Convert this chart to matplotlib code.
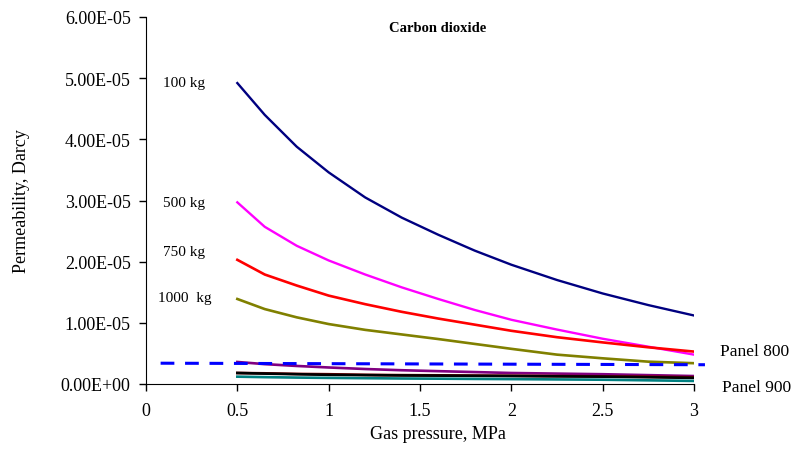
import matplotlib
matplotlib.use("Agg")
import matplotlib.pyplot as plt

plt.rcParams['font.family'] = ['Liberation Serif', 'DejaVu Serif']

pressure = [0.5, 0.65, 0.825, 1.0, 1.2, 1.4, 1.6, 1.8, 2.0, 2.25, 2.5, 2.75, 3.0]
k100 = [4.92e-5, 4.40e-5, 3.88e-5, 3.46e-5, 3.05e-5, 2.72e-5, 2.44e-5, 2.18e-5, 1.95e-5, 1.70e-5, 1.48e-5, 1.29e-5, 1.12e-5]
k500 = [2.97e-5, 2.57e-5, 2.26e-5, 2.02e-5, 1.79e-5, 1.58e-5, 1.39e-5, 1.21e-5, 1.05e-5, 0.89e-5, 0.74e-5, 0.61e-5, 0.48e-5]
k750 = [2.03e-5, 1.79e-5, 1.61e-5, 1.445e-5, 1.305e-5, 1.18e-5, 1.07e-5, 0.97e-5, 0.87e-5, 0.765e-5, 0.68e-5, 0.60e-5, 0.53e-5]
k1000 = [1.39e-5, 1.225e-5, 1.09e-5, 0.98e-5, 0.885e-5, 0.81e-5, 0.735e-5, 0.655e-5, 0.575e-5, 0.48e-5, 0.42e-5, 0.365e-5, 0.34e-5]
p900_a = [3.6e-6, 3.25e-6, 2.95e-6, 2.7e-6, 2.45e-6, 2.25e-6, 2.1e-6, 1.95e-6, 1.8e-6, 1.7e-6, 1.6e-6, 1.45e-6, 1.3e-6]
p900_b = [1.8e-6, 1.75e-6, 1.65e-6, 1.6e-6, 1.5e-6, 1.45e-6, 1.42e-6, 1.38e-6, 1.35e-6, 1.3e-6, 1.25e-6, 1.2e-6, 1.1e-6]
p900_c = [1.8e-6, 1.7e-6, 1.6e-6, 1.5e-6, 1.45e-6, 1.4e-6, 1.37e-6, 1.33e-6, 1.3e-6, 1.25e-6, 1.2e-6, 1.1e-6, 1.0e-6]
p900_d = [1.2e-6, 1.12e-6, 1.05e-6, 1.0e-6, 0.95e-6, 0.9e-6, 0.87e-6, 0.83e-6, 0.8e-6, 0.75e-6, 0.7e-6, 0.6e-6, 0.5e-6]
panel800_x = [0.08, 3.06]
panel800_y = [3.4e-6, 3.15e-6]

xticks = [0, 0.5, 1, 1.5, 2, 2.5, 3]
xticklabels = ['0', '0.5', '1', '1.5', '2', '2.5', '3']
yticks = [0, 1e-5, 2e-5, 3e-5, 4e-5, 5e-5, 6e-5]
yticklabels = ['0.00E+00', '1.00E-05', '2.00E-05', '3.00E-05', '4.00E-05', '5.00E-05', '6.00E-05']

fig = plt.figure(figsize=(8.03, 4.64), dpi=100)
ax = fig.add_axes([146/803, 79/464, 548/803, 367/464])

ax.plot(pressure, k100, color='#000080', lw=1.7)
ax.plot(pressure, k500, color='#FF00FF', lw=1.7)
ax.plot(pressure, k750, color='#FF0000', lw=1.9)
ax.plot(pressure, k1000, color='#808000', lw=1.9)
ax.plot(pressure, p900_a, color='#800080', lw=1.9)
ax.plot(pressure, p900_b, color='#800000', lw=1.9)
ax.plot(pressure, p900_c, color='#000000', lw=1.9)
ax.plot(pressure, p900_d, color='#008080', lw=1.9)
ax.plot(panel800_x, panel800_y, color='#0000FF', lw=2.2, dashes=(4.5, 3.5), clip_on=False)

ax.set_xlim(0, 3)
ax.set_ylim(0, 6e-5)
ax.set_xticks(xticks)
ax.set_xticklabels(xticklabels)
ax.set_yticks(yticks)
ax.set_yticklabels(yticklabels)
ax.tick_params(axis='both', direction='out', length=5, width=1, labelsize=13, colors='black')
ax.tick_params(axis='x', pad=8)
ax.tick_params(axis='y', pad=6)
ax.spines['top'].set_visible(False)
ax.spines['right'].set_visible(False)

ax.set_xlabel('Gas pressure, MPa', fontsize=13)
ax.xaxis.set_label_coords((438-146)/548, -(426-385)/367)
ax.set_ylabel('Permeability, Darcy', fontsize=13)
ax.yaxis.set_label_coords(-(146-30)/548, 0.5)

ax.text((438-146)/548, (385-28)/367, 'Carbon dioxide', transform=ax.transAxes, fontsize=10.5,
        fontweight='bold', ha='center', va='center')

for label, ypix, xpix in [('100 kg', 84, 163), ('500 kg', 203, 163), ('750 kg', 253, 163), ('1000  kg', 299, 158)]:
    fig.text(xpix/803, 1 - ypix/464, label, fontsize=11, ha='left', va='center')

fig.text(720/803, 1 - 352/464, 'Panel 800', fontsize=12.5, ha='left', va='center')
fig.text(722/803, 1 - 388/464, 'Panel 900', fontsize=12.5, ha='left', va='center')

fig.savefig('out.png', dpi=100)
